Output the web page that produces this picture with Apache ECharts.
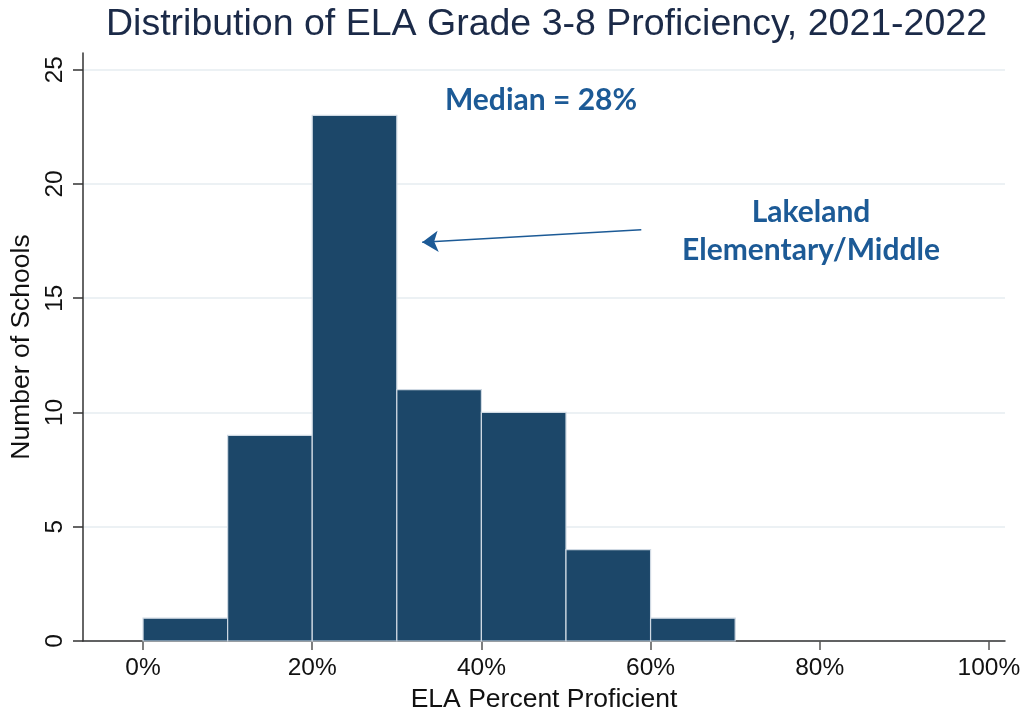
<!DOCTYPE html>
<html>
<head>
<meta charset="utf-8">
<title>ELA Proficiency Distribution</title>
<script src="https://cdn.jsdelivr.net/npm/echarts@6/dist/echarts.min.js"></script>
<style>
  html, body { margin: 0; padding: 0; background: #fff; }
  #chart { width: 1025px; height: 711px; }
</style>
</head>
<body>
<div id="chart"></div>
<script>
// bins of percent proficient and number of schools per bin
var binStart = [0, 10, 20, 30, 40, 50, 60];
var binEnd = [10, 20, 30, 40, 50, 60, 70];
var schoolCounts = [1, 9, 23, 11, 10, 4, 1];
var xTicks = [0, 20, 40, 60, 80, 100];
var yTicks = [0, 5, 10, 15, 20, 25];
// arrow pointing at Lakeland's bin: [from, to] in data coords
var arrowFrom = [58.9, 18.0];
var arrowTo = [33.0, 17.45];

var chart = echarts.init(document.getElementById('chart'), null, { renderer: 'canvas' });

var histData = binStart.map(function (s, i) {
  return [s, binEnd[i], schoolCounts[i]];
});

var blue = '#1c5a96';

var option = {
  animation: false,
  backgroundColor: '#fff',
  title: {
    text: 'Distribution of ELA Grade 3-8 Proficiency, 2021-2022',
    left: 101,
    top: 1,
    textStyle: {
      color: '#1b2a48',
      fontFamily: 'Liberation Sans',
      fontWeight: 'normal',
      fontSize: 37.5
    }
  },
  grid: {
    left: 83,
    right: 20,
    top: 53,
    bottom: 70,
    outerBoundsMode: 'none'
  },
  xAxis: {
    type: 'value',
    min: -7.1,
    max: 101.9,
    name: 'ELA Percent Proficient',
    nameLocation: 'middle',
    nameGap: 37,
    nameTextStyle: { color: '#111', fontFamily: 'Liberation Sans', fontSize: 26.5 },
    axisLine: { show: true, onZero: false, lineStyle: { color: '#333', width: 1.5 } },
    axisTick: { show: true, length: 9, customValues: xTicks, lineStyle: { color: '#555', width: 1.5 } },
    axisLabel: {
      customValues: xTicks,
      margin: 15,
      color: '#111',
      fontFamily: 'Liberation Sans',
      fontSize: 24.5,
      formatter: function (v) { return v + '%'; }
    },
    splitLine: { show: false }
  },
  yAxis: {
    type: 'value',
    min: 0,
    max: 25.73,
    name: 'Number of Schools',
    nameLocation: 'middle',
    nameGap: 48,
    nameTextStyle: { color: '#111', fontFamily: 'Liberation Sans', fontSize: 26.5 },
    axisLine: { show: true, onZero: false, lineStyle: { color: '#333', width: 1.5 } },
    axisTick: { show: true, length: 10, customValues: yTicks, lineStyle: { color: '#333', width: 1.5 } },
    axisLabel: {
      customValues: yTicks,
      rotate: 90,
      margin: 15,
      color: '#111',
      fontFamily: 'Liberation Sans',
      fontSize: 24.5
    },
    splitLine: { show: true, lineStyle: { color: '#e6ecf0', width: 1.5 } }
  },
  series: [{
    type: 'custom',
    data: histData,
    encode: { x: [0, 1], y: 2 },
    renderItem: function (params, api) {
      var topLeft = api.coord([api.value(0), api.value(2)]);
      var bottomRight = api.coord([api.value(1), 0]);
      return {
        type: 'rect',
        shape: {
          x: topLeft[0],
          y: topLeft[1],
          width: bottomRight[0] - topLeft[0],
          height: bottomRight[1] - topLeft[1]
        },
        style: { fill: '#1c4769', stroke: '#cfd9e3', lineWidth: 1.2 }
      };
    },
    markLine: {
      silent: true,
      symbol: ['none', 'arrow'],
      symbolSize: 16,
      label: { show: false },
      lineStyle: { color: blue, width: 1.5, type: 'solid' },
      data: [[{ coord: arrowFrom }, { coord: arrowTo }]]
    }
  }],
  graphic: [
    {
      type: 'text',
      x: 541,
      y: 100,
      style: {
        text: 'Median = 28%',
        align: 'center', verticalAlign: 'middle',
        fill: blue,
        font: 'bold 30px Lato'
      }
    },
    {
      type: 'text',
      x: 811,
      y: 231,
      style: {
        text: 'Lakeland\nElementary/Middle',
        align: 'center', verticalAlign: 'middle',
        lineHeight: 38,
        fill: blue,
        font: 'bold 30px Lato'
      }
    }
  ]
};

chart.setOption(option);
window.addEventListener('resize', function () {
  chart.resize();
});
</script>
</body>
</html>
